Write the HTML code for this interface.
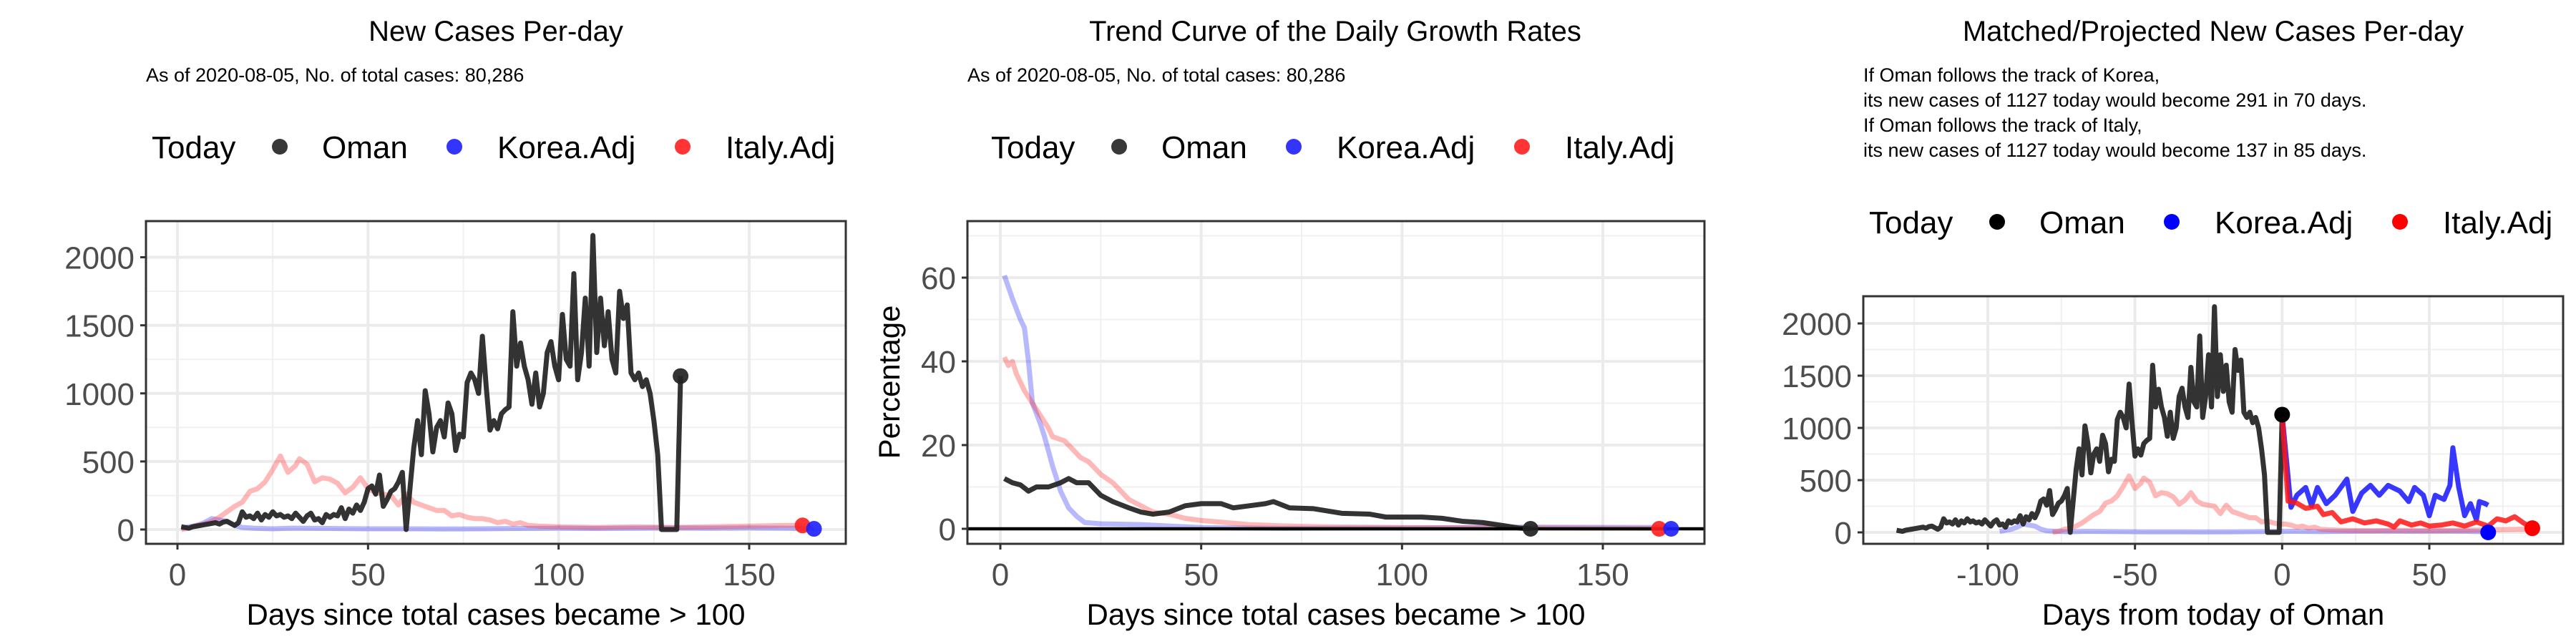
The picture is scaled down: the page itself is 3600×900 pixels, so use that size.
<!DOCTYPE html>
<html><head><meta charset="utf-8"><style>
html,body{margin:0;padding:0;background:#fff;}
svg{display:block;font-family:"Liberation Sans",sans-serif;}
</style></head><body>
<svg id="chart" width="3600" height="900" viewBox="0 0 3600 900" xmlns="http://www.w3.org/2000/svg">
<rect width="3600" height="900" fill="#fff"/>
<g id="p1">
<text x="693" y="57" font-size="40" text-anchor="middle">New Cases Per-day</text>
<text x="204" y="114" font-size="27">As of 2020-08-05, No. of total cases: 80,286</text>
</g>
<g id="p2">
<text x="1866" y="57" font-size="40" text-anchor="middle">Trend Curve of the Daily Growth Rates</text>
<text x="1352" y="114" font-size="27">As of 2020-08-05, No. of total cases: 80,286</text>
<text transform="translate(1257,534) rotate(-90)" font-size="42" text-anchor="middle">Percentage</text>
</g>
<g id="p3">
<text x="3093" y="57" font-size="40" text-anchor="middle">Matched/Projected New Cases Per-day</text>
<text x="2604" y="114" font-size="27">If Oman follows the track of Korea,</text>
<text x="2604" y="149" font-size="27">its new cases of 1127 today would become 291 in 70 days.</text>
<text x="2604" y="184" font-size="27">If Oman follows the track of Italy,</text>
<text x="2604" y="219" font-size="27">its new cases of 1127 today would become 137 in 85 days.</text>
</g>
</svg>
<script>
// ---- data ----
const omanCases = [20,15,10,20,25,30,35,40,45,50,40,55,60,45,30,50,130,90,100,80,120,70,110,90,130,100,110,90,100,80,120,90,60,100,120,70,80,50,110,90,110,100,160,80,150,120,180,140,200,300,320,260,400,170,220,280,300,350,420,0,300,600,800,550,1020,850,570,750,800,680,930,850,580,700,680,1080,1150,1100,1000,1420,1050,730,800,740,850,880,900,1600,1200,1370,1200,1100,920,1150,900,1000,1300,1380,1200,1100,1580,1250,1200,1880,1100,1300,1700,1200,2160,1300,1700,1350,1600,1250,1150,1750,1550,1650,1150,1100,1150,1050,1100,1000,800,550,0,0,0,0,0,1127];
const koreaDays = [1,3,5,7,9,11,13,15,17,20,25,30,40,50,60,70,80,90,100,110,120,130,140,150,160,167];
const koreaCases = [10,20,30,50,80,70,60,30,15,10,5,10,8,5,5,4,5,8,10,8,10,12,10,12,10,5];
const italyDays = [1,3,5,7,9,11,13,15,17,19,21,23,25,27,29,31,32,34,36,38,40,42,44,46,48,50,52,54,56,58,60,62,64,66,68,70,72,74,76,78,80,82,84,86,88,90,92,95,100,110,120,130,140,150,160,164];
const italyCases = [0,10,30,40,60,90,130,170,200,280,300,350,440,540,420,470,520,480,350,380,370,340,270,310,380,300,270,260,250,180,260,200,180,160,140,140,100,110,90,80,80,70,50,60,40,50,30,25,20,15,20,15,20,25,30,30];
const omanRateDays = [1,3,5,7,9,12,15,17,19,22,25,28,32,35,38,42,46,50,55,58,62,66,68,72,78,85,92,96,105,110,115,120,125,129,132];
const omanRate = [12,11,10.5,9,10,10,11,12,11,11,8,6.5,5,4,3.5,4,5.5,6,6,5,5.5,6,6.5,5,4.8,3.7,3.5,2.8,2.8,2.5,1.8,1.5,0.8,0.2,0];
const koreaRateDays = [1,3,5,6,7,8,10,11,13,15,17,19,21,25,35,50,70,100,130,167];
const koreaRate = [60.5,55,50,48,40,30,25,22,15,9,5,3,1.5,1.2,1,0.3,0.1,0.2,0.4,0.3];
const italyRateDays = [1,2,3,4,6,8,10,12,13,16,18,20,22,25,28,30,32,35,38,42,46,50,56,62,70,80,100,130,164];
const italyRate = [41,39,40,37,33,30,27,24,22,21,19,17,16,13,11,9,7,5.5,4,3.5,2.5,2,1.5,1,0.7,0.5,0.3,0.2,0.1];
const omanShift = -132, koreaShift = -97, italyShift = -79;
const koreaProjDays = [0,3,5,8,10,12,15,18,22,24,27,30,33,36,40,43,45,48,50,52,55,57,58,60,62,64,66,67,69,70];
const koreaProj = [1127,240,355,430,255,430,275,355,510,200,375,450,355,450,395,295,430,355,160,355,315,450,810,430,160,275,120,295,275,260];
const italyProjDays = [0,2,5,8,12,14,17,20,24,28,32,36,38,40,44,47,50,54,58,62,66,70,73,76,79,82,85];
const italyProj = [1127,300,280,230,250,170,190,100,130,90,110,80,50,110,70,90,60,70,90,60,100,60,130,110,150,90,40];
const yTicksCases = [0,500,1000,1500,2000];
const yTicksRate = [0,20,40,60];
const xTicks1 = [0,50,100,150];
const xTicks3 = [-100,-50,0,50];
const NS = "http://www.w3.org/2000/svg";
const svg = document.getElementById('chart');
function mk(tag, attrs, parent){const e=document.createElementNS(NS,tag);for(const k in attrs)e.setAttribute(k,attrs[k]);(parent||svg).appendChild(e);return e;}
function lin(d0,d1,r0,r1){return v=>r0+(v-d0)*(r1-r0)/(d1-d0);}

function panel(g, L, R, T, B, sx, sy, xt, xminor, yt, yminor, xlabel){
  const grid = mk('g',{},g);
  
  
  xminor.forEach(v=>mk('line',{x1:sx(v),x2:sx(v),y1:T,y2:B,stroke:'#f0f0f0','stroke-width':2},grid));
  yminor.forEach(v=>mk('line',{x1:L,x2:R,y1:sy(v),y2:sy(v),stroke:'#f0f0f0','stroke-width':2},grid));
  xt.forEach(v=>mk('line',{x1:sx(v),x2:sx(v),y1:T,y2:B,stroke:'#ebebeb','stroke-width':4},grid));
  yt.forEach(v=>mk('line',{x1:L,x2:R,y1:sy(v),y2:sy(v),stroke:'#ebebeb','stroke-width':4},grid));
  const ax = mk('g',{},g);
  
  
  xt.forEach(v=>{
    mk('line',{x1:sx(v),x2:sx(v),y1:B,y2:B+8,stroke:'#333','stroke-width':3},ax);
    const t=mk('text',{x:sx(v),y:B+58,'font-size':44,fill:'#4d4d4d','text-anchor':'middle'},ax);
    
    
    t.textContent=v;
  });
  yt.forEach(v=>{
    mk('line',{x1:L-8,x2:L,y1:sy(v),y2:sy(v),stroke:'#333','stroke-width':3},ax);
    const t=mk('text',{x:L-16,y:sy(v)+16,'font-size':44,fill:'#4d4d4d','text-anchor':'end'},ax);
    
    
    t.textContent=v;
  });
  const xl=mk('text',{x:(L+R)/2,y:873,'font-size':42,'text-anchor':'middle'},ax);
  
  
  xl.textContent=xlabel;
}
function line(g, xs, ys, sx, sy, color, w, name){
  const p=mk('polyline',{points:xs.map((x,i)=>sx(x)+','+sy(ys[i])).join(' '),fill:'none',stroke:color,'stroke-width':w,'stroke-linejoin':'round'},g);
  
  
  return p;
}
function dot(g,x,y,color,name){
  const c=mk('circle',{cx:x,cy:y,r:11,fill:color},g);
  
  
}
function legend(g, y, xs, cols){
  const lg=mk('g',{},g);
  
  
  const t=mk('text',{x:xs[0],y:y+16,'font-size':44},lg);
  
  
  t.textContent='Today';
  const labels=['Oman','Korea.Adj','Italy.Adj'];
  for(let i=0;i<3;i++){
    dot(lg,xs[1+2*i],y,cols[i],'legend-key');
    const e=mk('text',{x:xs[2+2*i],y:y+16,'font-size':44},lg);
    
    
    e.textContent=labels[i];
  }
}
const seq=n=>Array.from({length:n},(_,i)=>i+1);
const omanDays = seq(omanCases.length);
const lightBlue='rgba(51,51,255,0.35)', lightRed='rgba(255,51,51,0.35)', dark='rgba(34,34,34,0.92)';
const LW=7;

// Panel 1
{
  const g=document.getElementById('p1');
  const L=204,R=1182,T=309,B=760;
  const sx=lin(0,150,248,1047), sy=lin(0,2000,740,359.5);
  panel(g,L,R,T,B,sx,sy,xTicks1,[25,75,125],yTicksCases,[250,750,1250,1750],'Days since total cases became > 100');
  line(g,koreaDays,koreaCases,sx,sy,lightBlue,LW,'korea-line');
  line(g,italyDays,italyCases,sx,sy,lightRed,LW,'italy-line');
  line(g,omanDays,omanCases,sx,sy,dark,LW,'oman-line');
  dot(g,sx(omanDays[omanDays.length-1]),sy(omanCases[omanCases.length-1]),dark,'oman-today-dot');
  dot(g,sx(italyDays[italyDays.length-1]),sy(italyCases[italyCases.length-1]),'rgba(255,30,30,0.9)','italy-today-dot');
  dot(g,sx(koreaDays[koreaDays.length-1]),sy(koreaCases[koreaCases.length-1]),'rgba(30,30,255,0.9)','korea-today-dot');
  mk('rect',{x:L,y:T,width:R-L,height:B-T,fill:'none',stroke:'#333','stroke-width':3},g);
  legend(g,205,[212,391,450,635,695,954,1014],['rgba(34,34,34,0.9)','rgba(30,30,255,0.9)','rgba(255,30,30,0.9)']);
}
// Panel 2
{
  const g=document.getElementById('p2');
  const L=1352,R=2382,T=309,B=760;
  const sx=lin(0,150,1398,2240), sy=lin(0,60,739,388);
  panel(g,L,R,T,B,sx,sy,xTicks1,[25,75,125],yTicksRate,[10,30,50,70],'Days since total cases became > 100');
  line(g,koreaRateDays,koreaRate,sx,sy,lightBlue,LW,'korea-rate-line');
  line(g,italyRateDays,italyRate,sx,sy,lightRed,LW,'italy-rate-line');
  line(g,omanRateDays,omanRate,sx,sy,dark,LW,'oman-rate-line');
  const h=mk('line',{x1:L,x2:R,y1:sy(0),y2:sy(0),stroke:'#000','stroke-width':4.5},g);
  
  
  dot(g,sx(omanRateDays[omanRateDays.length-1]),sy(omanRate[omanRate.length-1]),dark,'oman-today-dot');
  dot(g,sx(italyRateDays[italyRateDays.length-1]),sy(0),'rgba(255,30,30,0.9)','italy-today-dot');
  dot(g,sx(koreaRateDays[koreaRateDays.length-1]),sy(0),'rgba(30,30,255,0.9)','korea-today-dot');
  mk('rect',{x:L,y:T,width:R-L,height:B-T,fill:'none',stroke:'#333','stroke-width':3},g);
  legend(g,205,[1385,1564,1623,1808,1868,2127,2187],['rgba(34,34,34,0.9)','rgba(30,30,255,0.9)','rgba(255,30,30,0.9)']);
}
// Panel 3
{
  const g=document.getElementById('p3');
  const L=2604,R=3582,T=414,B=760;
  const sx=lin(-100,50,2778,3395), sy=lin(0,2000,744,452);
  panel(g,L,R,T,B,sx,sy,xTicks3,[-125,-75,-25,25,75],yTicksCases,[250,750,1250,1750],'Days from today of Oman');
  line(g,koreaDays.map(d=>d+koreaShift),koreaCases,sx,sy,lightBlue,LW,'korea-matched-line');
  line(g,italyDays.map(d=>d+italyShift),italyCases,sx,sy,lightRed,LW,'italy-matched-line');
  line(g,omanDays.map(d=>d+omanShift),omanCases,sx,sy,dark,LW,'oman-line');
  line(g,koreaProjDays,koreaProj,sx,sy,'rgba(20,20,255,0.85)',LW,'korea-projection-line');
  line(g,italyProjDays,italyProj,sx,sy,'rgba(255,20,20,0.85)',LW,'italy-projection-line');
  dot(g,sx(0),sy(omanCases[omanCases.length-1]),'#000','oman-today-dot');
  dot(g,sx(koreaDays[koreaDays.length-1]+koreaShift),sy(0),'#0000ff','korea-projected-dot');
  dot(g,sx(italyDays[italyDays.length-1]+italyShift),sy(italyProj[italyProj.length-1]),'#ff0000','italy-projected-dot');
  mk('rect',{x:L,y:T,width:R-L,height:B-T,fill:'none',stroke:'#333','stroke-width':3},g);
  legend(g,310,[2612,2791,2850,3035,3095,3354,3414],['#000','#0000ff','#ff0000']);
}
</script>
</body></html>
